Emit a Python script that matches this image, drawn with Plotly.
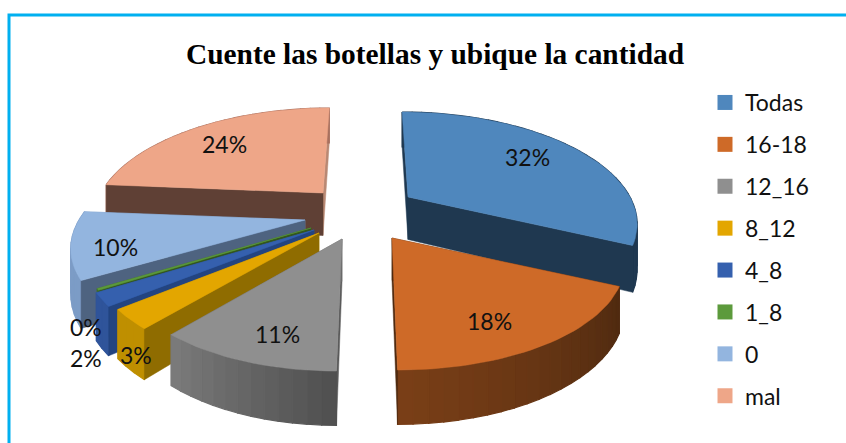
import math
import plotly.graph_objects as go

# ---- data ----
categories = ["Todas", "16-18", "12_16", "8_12", "4_8", "1_8", "0", "mal"]
values = [32, 18, 11, 3, 2, 0.3, 10, 23.7]
title_text = "Cuente las botellas y ubique la cantidad"

# ---- styles ----
top_colors = ["#4F87BD", "#CE6A28", "#8F8F8F", "#E3A600", "#3560AE", "#5C9A3C", "#93B5DF", "#EEA688"]
wall_a = ["#1F3850", "#7A3F17", "#7C7C7C", "#BF8F00", "#2F549A", "#3F6A28", "#7C9CC6", "#A8705F"]
wall_b = ["#1F3850", "#4F2A10", "#4F4F4F", "#BF8F00", "#2F549A", "#3F6A28", "#7C9CC6", "#A8705F"]
start_face = ["#1F3850", "#4F2A10", "#5A5A5A", "#8F6C00", "#234480", "#33561F", "#4E6380", "#5F4035"]
end_face = ["#1F3850", "#4F2A10", "#6A6A6A", "#BF8F00", "#2F549A", "#3F6A28", "#7C9CC6", "#B98873"]

# ---- projection of the tilted, exploded pie (pixels) ----
apex = [(408, 197), (392, 238), (342, 239), (319, 233), (314, 230), (311, 228), (305, 220), (323, 193)]
radius_x = [222, 226, 218, 218, 222, 216, 226, 222]
label_pos = [(527, 157), (489, 321), (277, 334), (136, 355), (86, 358), (86, 327), (115, 247), (224, 144)]
RY, PERSP, DEPTH, VX = 103.4, 0.217, 42.5, 367
paint_order = [7, 0, 6, 5, 4, 3, 2, 1]


def rim(i, frac):
    th = 2 * math.pi * frac
    X, Y = math.sin(th), -math.cos(th)
    s = 1 / (1 - PERSP * Y)
    ax, ay = apex[i]
    return ax + radius_x[i] * X * s + (ax - VX) * (s - 1) * 0.8, ay + RY * Y * s, s


def mix(a, b, t):
    ca = [int(a[k:k + 2], 16) for k in (1, 3, 5)]
    cb = [int(b[k:k + 2], 16) for k in (1, 3, 5)]
    return "#%02X%02X%02X" % tuple(round(p + (q - p) * t) for p, q in zip(ca, cb))


def poly(fig, pts, color, lw=0.5):
    fig.add_trace(go.Scatter(x=[p[0] for p in pts] + [pts[0][0]], y=[p[1] for p in pts] + [pts[0][1]],
                             mode="lines", fill="toself", fillcolor=color,
                             line=dict(width=lw, color=color), showlegend=False, hoverinfo="skip"))


def cut_face(fig, i, f, col):
    ax, ay = apex[i]
    x, y, s = rim(i, f)
    poly(fig, [(ax, ay), (x, y), (x, y + DEPTH * s), (ax, ay + DEPTH)], col)


total = sum(values)
bounds = [0]
for v in values:
    bounds.append(bounds[-1] + v / total)

fig = go.Figure()
for i in paint_order:
    f0, f1 = bounds[i], bounds[i + 1]
    ax, ay = apex[i]
    start_front = f0 > 0.5
    end_front = f1 <= 0.5
    # cut faces turned away from the viewer
    if not start_front:
        cut_face(fig, i, f0, start_face[i])
    if not end_front:
        cut_face(fig, i, f1, end_face[i])
    # outer wall, in strips for its shading
    n = max(2, int((f1 - f0) * 120))
    for k in range(n):
        a, b = f0 + (f1 - f0) * k / n, f0 + (f1 - f0) * (k + 1) / n
        fs = [a + (b - a) * j / 4 for j in range(5)]
        up = [rim(i, f) for f in fs]
        pts = [(p[0], p[1]) for p in up] + [(p[0], p[1] + DEPTH * p[2]) for p in reversed(up)]
        poly(fig, pts, mix(wall_b[i], wall_a[i], (k + 0.5) / n), lw=1.2)
    # cut faces turned towards the viewer
    if start_front:
        cut_face(fig, i, f0, start_face[i])
    if end_front:
        cut_face(fig, i, f1, end_face[i])
    # top face
    n = max(6, int((f1 - f0) * 200))
    pts = [(ax, ay)] + [rim(i, f0 + (f1 - f0) * k / n)[:2] for k in range(n + 1)]
    poly(fig, pts, top_colors[i])

# legend entries
for name, col in zip(categories, top_colors):
    fig.add_trace(go.Scatter(x=[None], y=[None], mode="markers", name=name, legendgroup=name,
                             marker=dict(symbol="square", size=15, color=col)))

for (x, y), v in zip(label_pos, values):
    fig.add_annotation(x=x, y=y, text=f"{round(v)}%", showarrow=False,
                       font=dict(family="Lato", size=23, color="#111111"))

fig.add_shape(type="rect", x0=9, y0=15, x1=900, y1=500, line=dict(color="#00B0F0", width=3), layer="above")

fig.update_layout(
    width=846, height=443, margin=dict(l=0, r=0, t=0, b=0), paper_bgcolor="white", plot_bgcolor="white",
    title=dict(text=f"<b>{title_text}</b>", x=435 / 846, xanchor="center", y=1 - 54 / 443, yanchor="middle",
               font=dict(family="Liberation Serif", size=29.4, color="black")),
    xaxis=dict(range=[0, 846], visible=False, fixedrange=True),
    yaxis=dict(range=[443, 0], visible=False, fixedrange=True),
    legend=dict(x=705 / 846, y=1 - 81 / 443, xanchor="left", yanchor="top", tracegroupgap=9, itemwidth=30,
                bgcolor="rgba(0,0,0,0)", font=dict(family="Lato", size=23, color="#111111")),
)
fig.write_html("out.html", post_script="document.body.style.margin='0';",
               config={"displayModeBar": False})
